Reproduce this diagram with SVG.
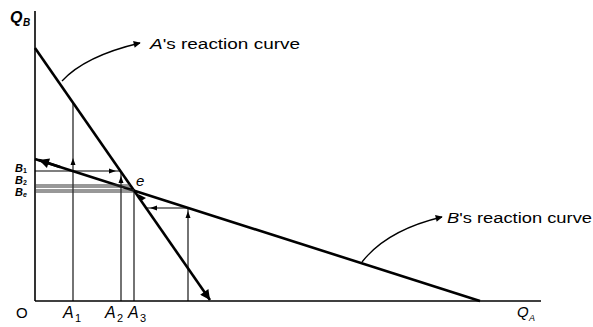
<svg xmlns="http://www.w3.org/2000/svg" width="593" height="327" viewBox="0 0 593 327">
<defs>
<marker id="ah" viewBox="0 0 10 10" refX="9" refY="5" markerWidth="9" markerHeight="7" orient="auto" markerUnits="userSpaceOnUse">
<path d="M0,0 L10,5 L0,10 z" fill="#000"/>
</marker>
<marker id="big" viewBox="0 0 10 10" refX="10" refY="5" markerWidth="18" markerHeight="10" orient="auto" markerUnits="userSpaceOnUse">
<path d="M0,0 L10,5 L0,10 z" fill="#000"/>
</marker>
</defs>
<style>
.ax{stroke:#000;stroke-width:1.6;fill:none}
.rc{stroke:#000;stroke-width:2.6;fill:none}
.th{stroke:#000;stroke-width:1.1;fill:none}
.gr{stroke:#333;stroke-width:1.1;fill:none}
.an{stroke:#000;stroke-width:1.3;fill:none}
.t{font-family:"Liberation Sans",Arial,sans-serif;fill:#000}
.it{font-style:italic}
.sm{fill:#000}
</style>
<g id="axes">
<line class="ax" x1="35" y1="11" x2="35" y2="301"/>
<line class="ax" x1="35" y1="301" x2="541" y2="301"/>
</g>
<g id="connectors">
<line class="rc" x1="35" y1="48" x2="210" y2="300" marker-end="url(#big)"/>
<line class="rc" x1="35" y1="159" x2="480" y2="301"/>
<path d="M60,167 L39,160" class="rc" marker-end="url(#big)"/>
<line class="th" x1="73" y1="301" x2="73" y2="103"/>
<line class="th" x1="121" y1="301" x2="121" y2="172"/>
<line class="th" x1="134" y1="301" x2="134" y2="190"/>
<line class="th" x1="188" y1="301" x2="188" y2="208"/>
<line class="th" x1="35" y1="171" x2="120" y2="171"/>
<line class="gr" x1="35" y1="185" x2="130" y2="185"/>
<line class="gr" x1="35" y1="187" x2="130" y2="187"/>
<line class="gr" x1="35" y1="190" x2="134" y2="190"/>
<line class="gr" x1="35" y1="192" x2="134" y2="192"/>
<line class="th" x1="188" y1="208" x2="146" y2="208"/>
<polygon class="sm" points="73,158 70.5,165 75.5,165"/>
<polygon class="sm" points="188,211 185.5,218 190.5,218"/>
<polygon class="sm" points="116,171 109,168.5 109,173.5"/>
<polygon class="sm" points="150,208 157,205.5 157,210.5"/>
<polygon class="sm" points="121,176 118.5,183 123.5,183"/>
<polygon class="sm" points="138,194 141,201 146,198"/>
<path class="an" d="M62,81 Q85,56 140,43" marker-end="url(#ah)"/>
<path class="an" d="M362,262 Q387,230 442,217" marker-end="url(#ah)"/>
</g>
<g id="labels">
<text class="t it" x="10" y="23" font-size="16" font-weight="bold">Q</text>
<text class="t it" x="23" y="26" font-size="10" font-weight="bold">B</text>
<text class="t" x="16" y="318" font-size="15">O</text>
<text class="t it" x="63" y="318" font-size="16">A</text>
<text class="t" x="75" y="322" font-size="11">1</text>
<text class="t it" x="105" y="318" font-size="16">A</text>
<text class="t" x="117" y="322" font-size="11">2</text>
<text class="t it" x="128" y="318" font-size="16">A</text>
<text class="t" x="140" y="322" font-size="11">3</text>
<text class="t it" x="517" y="317" font-size="15">Q</text>
<text class="t it" x="529" y="321" font-size="9">A</text>
<text class="t it" x="15" y="172" font-size="11" font-weight="bold">B</text>
<text class="t" x="23" y="173" font-size="7" font-weight="bold">1</text>
<text class="t it" x="15" y="184" font-size="11" font-weight="bold">B</text>
<text class="t" x="23" y="185" font-size="7" font-weight="bold">2</text>
<text class="t it" x="15" y="196" font-size="11" font-weight="bold">B</text>
<text class="t it" x="23" y="197" font-size="7" font-weight="bold">e</text>
<text class="t it" x="136" y="186" font-size="15">e</text>
<text class="t" x="150" y="49" font-size="14" textLength="150" lengthAdjust="spacingAndGlyphs"><tspan class="it">A</tspan>'s reaction curve</text>
<text class="t" x="447" y="223" font-size="14" textLength="145" lengthAdjust="spacingAndGlyphs"><tspan class="it">B</tspan>'s reaction curve</text>
</g>
</svg>
